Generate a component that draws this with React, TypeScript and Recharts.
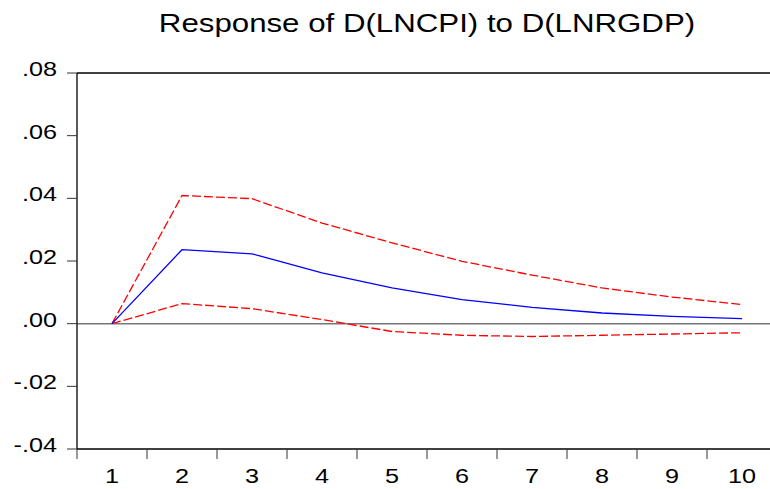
import { LineChart, Line, XAxis, YAxis, ReferenceLine } from 'recharts'

const periods = [1, 2, 3, 4, 5, 6, 7, 8, 9, 10]
const response = [0, 0.0236, 0.0223, 0.0162, 0.0114, 0.0077, 0.0052, 0.0034, 0.0023, 0.0016]
const upperBand = [0, 0.0409, 0.0399, 0.0321, 0.0258, 0.0199, 0.0155, 0.0114, 0.0085, 0.0061]
const lowerBand = [0, 0.0064, 0.0048, 0.0013, -0.0025, -0.0037, -0.0041, -0.0037, -0.0033, -0.0029]
const yTicks = [-0.04, -0.02, 0, 0.02, 0.04, 0.06, 0.08]

const data = periods.map((p, i) => ({
  period: p,
  response: response[i],
  upper: upperBand[i],
  lower: lowerBand[i]
}))

// tick marks sit on the boundaries between periods
const boundaryTicks = periods.map(p => p - 0.5)

const W = 800
const H = 489
const M = { top: 73, right: 23, bottom: 0, left: 0 }
const Y_AXIS_W = 77
const X_AXIS_H = 40
const halfBand = (W - M.right - Y_AXIS_W) / periods.length / 2

const FONT = '"Liberation Sans", Arial, sans-serif'

const fmtY = (v: number) => {
  const s = Math.abs(v).toFixed(2).replace(/^0/, '')
  return v < 0 ? '-' + s : s
}

const YTick = (props: any) => {
  const { x, y, payload } = props
  return (
    <g transform={`translate(${x},${y + 3})`}>
      <text transform="scale(1.2,1)" textAnchor="end" fontSize={21} fontFamily={FONT} fill="#000">
        {fmtY(payload.value)}
      </text>
    </g>
  )
}

const XTick = (props: any) => {
  const { x, y, payload } = props
  return (
    <g transform={`translate(${x + halfBand},${y + 22})`}>
      <text transform="scale(1.2,1)" textAnchor="middle" fontSize={21} fontFamily={FONT} fill="#000">
        {payload.value + 0.5}
      </text>
    </g>
  )
}

export default function App() {
  return (
    <div style={{ position: 'absolute', top: 0, left: 0, width: 770, height: 489, overflow: 'hidden', background: '#fff' }}>
      <LineChart width={W} height={H} data={data} margin={M}>
        <XAxis
          dataKey="period"
          type="number"
          domain={[0.5, 10.5]}
          ticks={boundaryTicks}
          interval={0}
          height={X_AXIS_H}
          axisLine={{ stroke: '#000', strokeWidth: 1.3 }}
          tickLine={{ stroke: '#333' }}
          tickSize={10}
          tickMargin={2}
          tick={<XTick />}
        />
        <YAxis
          type="number"
          domain={[-0.04, 0.08]}
          ticks={yTicks}
          interval={0}
          width={Y_AXIS_W}
          axisLine={{ stroke: '#000', strokeWidth: 1.3 }}
          tickLine={{ stroke: '#333' }}
          tickSize={10}
          tickMargin={10}
          tick={<YTick />}
        />
        <ReferenceLine y={0.08} stroke="#000" strokeWidth={1.3} />
        <ReferenceLine y={0} stroke="#777" strokeWidth={1.5} />
        <Line type="linear" dataKey="upper" stroke="#ff0000" strokeWidth={1.3} strokeDasharray="9 3" dot={false} isAnimationActive={false} />
        <Line type="linear" dataKey="lower" stroke="#ff0000" strokeWidth={1.3} strokeDasharray="9 3" dot={false} isAnimationActive={false} />
        <Line type="linear" dataKey="response" stroke="#0000ff" strokeWidth={1.3} dot={false} isAnimationActive={false} />
      </LineChart>
      <svg width={770} height={50} style={{ position: 'absolute', top: 0, left: 0 }}>
        <g transform="translate(427,32) scale(1.25,1)">
          <text textAnchor="middle" fontSize={25} fontFamily={FONT} fill="#000">
            Response of D(LNCPI) to D(LNRGDP)
          </text>
        </g>
      </svg>
    </div>
  )
}
